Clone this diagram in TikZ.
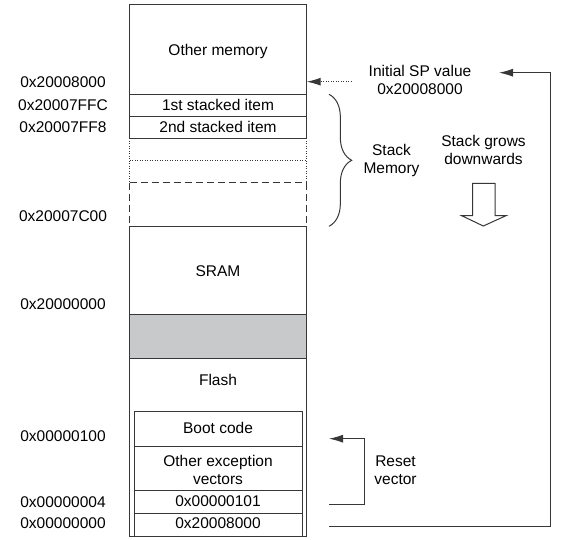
\documentclass[tikz,border=0pt]{standalone}
\usepackage{fontspec}
\setmainfont{Liberation Sans}
\usepackage{tikz}
\usetikzlibrary{calc}
\usetikzlibrary{arrows.meta}
\usetikzlibrary{decorations.pathreplacing}

\definecolor{gapgray}{RGB}{200,201,202}
\definecolor{linegray}{RGB}{55,55,55}

\begin{document}
\begin{tikzpicture}[x=1pt,y=-1pt,
    wall/.style={draw=linegray,line width=1pt},
    txt/.style={font=\fontsize{15.5}{18.5}\selectfont,text height=11.1pt,text depth=0pt,inner sep=0pt},
    twoline/.style={font=\fontsize{15.5}{18.5}\selectfont,align=center,inner sep=0pt},
    arr/.style={wall,-{Latex[length=14pt,width=8pt]}}]
\useasboundingbox (0,0) rectangle (571,540);

% memory column
\coordinate (a) at (129.7,5);
\coordinate (b) at (306.7,5);
\coordinate (c) at (129.7,138.3);
\coordinate (d) at (306.7,138.3);
\coordinate (e) at (129.7,182.7);
\coordinate (f) at (306.7,182.7);
\coordinate (g) at (129.7,226.3);
\coordinate (h) at (306.7,226.3);
\coordinate (i) at (129.7,536);
\coordinate (j) at (306.7,536);
% vector table box
\coordinate (k) at (134.3,412);
\coordinate (l) at (302,536);
% stack brace
\coordinate (m) at (329,94.3);
\coordinate (n) at (329,226.3);
% arrows
\coordinate (p) at (351.7,81.7);
\coordinate (q) at (306.7,81.7);
\coordinate (r) at (329,504.7);
\coordinate (s) at (364.3,504.7);
\coordinate (t) at (364.3,438.7);
\coordinate (u) at (329,438.7);
\coordinate (v) at (329,526);
\coordinate (w) at (550.7,526);
\coordinate (z) at (550.7,72.7);
\coordinate (y) at (499,72.7);

\newcommand{\memline}[2][]{
    \draw[wall,#1] (129.7,#2)--(306.7,#2);
}

\newcommand{\cellline}[1]{
    \draw[wall] (134.3,#1)--(302,#1);
}

\newcommand{\addrlabel}[3]{
    \node[txt] (#1) at (63,#2) {#3};
}

\newcommand{\celllabel}[3]{
    \node[txt] (#1) at (218,#2) {#3};
}

\newcommand{\drawcolumn}{
    \fill[gapgray] (129.7,315) rectangle (306.7,359);
    \draw[wall] (c)--(a)--(b)--(d);
    \draw[wall,dash pattern=on 1pt off 1.5pt] (c)--(e);
    \draw[wall,dash pattern=on 1pt off 1.5pt] (d)--(f);
    \draw[wall,dash pattern=on 7pt off 4pt] (e)--(g);
    \draw[wall,dash pattern=on 7pt off 4pt] (f)--(h);
    \draw[wall] (g)--(i)--(j)--(h);
    \memline{94.7}
    \memline{116.7}
    \memline{138.3}
    \memline[dash pattern=on 1pt off 1.5pt]{160.7}
    \memline[dash pattern=on 7pt off 4pt]{182.7}
    \memline{226.3}
    \memline{315}
    \memline{359}
    \draw[wall] (k) rectangle (l);
    \cellline{446.7}
    \cellline{490.7}
    \cellline{513.3}
}

\newcommand{\drawaddrs}{
    \addrlabel{a0}{82.3}{0x20008000}
    \addrlabel{a1}{105}{0x20007FFC}
    \addrlabel{a2}{126.7}{0x20007FF8}
    \addrlabel{a3}{216}{0x20007C00}
    \addrlabel{a4}{304}{0x20000000}
    \addrlabel{a5}{435.7}{0x00000100}
    \addrlabel{a6}{501.7}{0x00000004}
    \addrlabel{a7}{523.3}{0x00000000}
}

\newcommand{\drawcells}{
    \celllabel{othermem}{50}{Other memory}
    \celllabel{item1}{105}{1st stacked item}
    \celllabel{item2}{127}{2nd stacked item}
    \celllabel{sram}{270.7}{SRAM}
    \celllabel{flash}{380}{Flash}
    \celllabel{boot}{428}{Boot code}
    \node[twoline] (othervec) at (218,470) {Other exception\\vectors};
    \celllabel{resetval}{501}{0x00000101}
    \celllabel{spval}{523}{0x20008000}
}

\newcommand{\drawnotes}{
    \node[twoline] (initsp) at (420,80) {Initial SP value\\0x20008000};
    \node[twoline] (stackmem) at (391.5,160.5) {Stack\\Memory};
    \node[twoline] (grows) at (483.5,150) {Stack grows\\downwards};
    \node[twoline] (resetvec) at (395.5,470) {Reset\\vector};
    \draw[wall,decorate,decoration={brace,amplitude=22.7pt}] (m)--(n);
    \draw[wall,fill=white] (472.7,183.3)--(495,183.3)--(495,215.7)--(506,215.7)
        --(483.3,226)--(461.7,215.7)--(472.7,215.7)--cycle;
    \draw[arr,dash pattern=on 1pt off 1.5pt] (p)--(q);
    \draw[arr] (r)--(s)--(t)--(u);
    \draw[arr] (v)--(w)--(z)--(y);
}

    \drawcolumn
    \drawaddrs
    \drawcells
    \drawnotes
\end{tikzpicture}
\end{document}
